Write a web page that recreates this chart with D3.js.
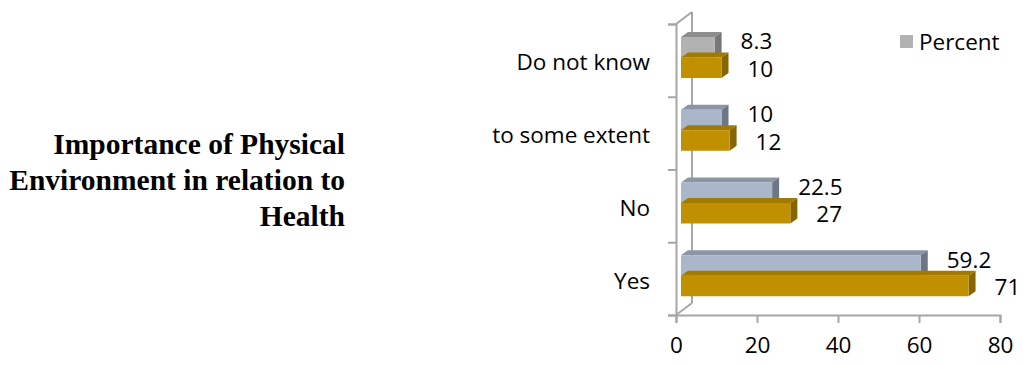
<!DOCTYPE html>
<html>
<head>
<meta charset="utf-8">
<script src="https://cdn.jsdelivr.net/npm/d3@7"></script>
<style>
  body { margin: 0; background: #fff; }
  svg { display: block; }
</style>
</head>
<body>
<div id="chart"></div>
<script>
// data
var categories = ["Yes", "No", "to some extent", "Do not know"];
var percent = [59.2, 22.5, 10, 8.3];
var frequency = [71, 27, 12, 10];
var xTicks = [0, 20, 40, 60, 80];
var titleLines = ["Importance of Physical", "Environment in relation to", "Health"];
var legendLabel = "Percent";

var width = 1023, height = 365;
var svg = d3.select("#chart").append("svg")
  .attr("width", width)
  .attr("height", height);

var font = "'Open Sans', sans-serif";
var fontSize = "22.5px";
var axisColor = "#a6a6a6";

// title on the left
svg.append("g").selectAll("text")
  .data(titleLines)
  .enter().append("text")
  .attr("x", 345)
  .attr("y", function (d, i) { return 154 + i * 36; })
  .attr("text-anchor", "end")
  .style("font-family", "'Liberation Serif', 'Times New Roman', serif")
  .style("font-weight", "bold")
  .style("font-size", "29.5px")
  .text(function (d) { return d; });

var x = d3.scaleLinear().domain([0, 80]).range([676, 1000]);
var y = d3.scaleBand().domain(categories).range([315, 24]);
var depth = { dx: 16, dy: -12 };
var barOff = { dx: 5, dy: -4 };
var barDepth = { dx: 7, dy: -5 };

// walls
var walls = svg.append("g")
  .attr("fill", "none")
  .attr("stroke", axisColor)
  .attr("stroke-width", 2);
walls.append("line")
  .attr("x1", x(0) + depth.dx).attr("y1", y.range()[1] + depth.dy)
  .attr("x2", x(0) + depth.dx).attr("y2", y.range()[0] + depth.dy);
walls.append("line")
  .attr("x1", x(0)).attr("y1", y.range()[1])
  .attr("x2", x(0) + depth.dx).attr("y2", y.range()[1] + depth.dy);
walls.append("line")
  .attr("x1", x(0)).attr("y1", y.range()[0])
  .attr("x2", x(0) + depth.dx).attr("y2", y.range()[0] + depth.dy);

// front axes
var yAxis = svg.append("g")
  .attr("transform", "translate(" + x(0) + ",0)")
  .call(d3.axisLeft(d3.scaleLinear().domain([0, 4]).range([315, 24]))
    .ticks(4).tickSize(8).tickFormat(""));
var xAxis = svg.append("g")
  .attr("transform", "translate(0," + y.range()[0] + ")")
  .call(d3.axisBottom(x).tickValues(xTicks).tickSize(8).tickPadding(14));
[yAxis, xAxis].forEach(function (a) {
  a.select(".domain").attr("stroke", axisColor).attr("stroke-width", 2);
  a.selectAll(".tick line").attr("stroke", axisColor).attr("stroke-width", 2);
});
xAxis.selectAll(".tick text")
  .style("font-family", font)
  .style("font-size", fontSize)
  .attr("fill", "#000");

// category labels
svg.append("g").selectAll("text")
  .data(categories)
  .enter().append("text")
  .attr("x", 650)
  .attr("y", function (d) { return y(d) + y.bandwidth() / 2 + 10; })
  .attr("text-anchor", "end")
  .style("font-family", font)
  .style("font-size", fontSize)
  .text(function (d) { return d; });

// 3d bars
var inner = d3.scaleBand().domain(["percent", "frequency"]).range([17, 58]);
var series = [
  { key: "percent", values: percent },
  { key: "frequency", values: frequency }
];
function colorsFor(key, cat) {
  if (key === "frequency") return { front: "#c09000", top: "#a37a00", side: "#876500" };
  if (cat === "Do not know") return { front: "#b2b2b2", top: "#8e8e8e", side: "#777777" };
  return { front: "#aab6ca", top: "#8b95a4", side: "#6d7684" };
}

var bars = [];
series.forEach(function (s) {
  s.values.forEach(function (v, i) {
    bars.push({ key: s.key, cat: categories[i], value: v });
  });
});

var g = svg.append("g").selectAll(".bar")
  .data(bars)
  .enter().append("g")
  .attr("class", "bar");

function geom(d) {
  var x0 = x(0) + barOff.dx, x1 = x(d.value) + barOff.dx;
  var y0 = y(d.cat) + inner(d.key) + barOff.dy, y1 = y0 + inner.bandwidth();
  return { x0: x0, x1: x1, y0: y0, y1: y1 };
}

g.append("path")
  .attr("d", function (d) {
    var b = geom(d);
    return "M" + b.x0 + "," + b.y0 + "L" + (b.x0 + barDepth.dx) + "," + (b.y0 + barDepth.dy) +
      "L" + (b.x1 + barDepth.dx) + "," + (b.y0 + barDepth.dy) + "L" + b.x1 + "," + b.y0 + "Z";
  })
  .attr("fill", function (d) { return colorsFor(d.key, d.cat).top; });
g.append("path")
  .attr("d", function (d) {
    var b = geom(d);
    return "M" + b.x1 + "," + b.y0 + "L" + (b.x1 + barDepth.dx) + "," + (b.y0 + barDepth.dy) +
      "L" + (b.x1 + barDepth.dx) + "," + (b.y1 + barDepth.dy) + "L" + b.x1 + "," + b.y1 + "Z";
  })
  .attr("fill", function (d) { return colorsFor(d.key, d.cat).side; });
g.append("rect")
  .attr("x", function (d) { return geom(d).x0; })
  .attr("y", function (d) { return geom(d).y0; })
  .attr("width", function (d) { var b = geom(d); return b.x1 - b.x0; })
  .attr("height", inner.bandwidth())
  .attr("fill", function (d) { return colorsFor(d.key, d.cat).front; });

// value labels
g.append("text")
  .attr("x", function (d) { return geom(d).x1 + barDepth.dx + 19; })
  .attr("y", function (d) {
    var b = geom(d);
    return (b.y0 + b.y1) / 2 + (d.key === "percent" ? 2 : 9);
  })
  .style("font-family", font)
  .style("font-size", fontSize)
  .text(function (d) { return d.value; });

// legend
var legend = svg.append("g").attr("transform", "translate(900,35)");
legend.append("rect")
  .attr("width", 13).attr("height", 13)
  .attr("fill", "#b2b2b2");
legend.append("text")
  .attr("x", 19).attr("y", 15)
  .style("font-family", font)
  .style("font-size", fontSize)
  .text(legendLabel);
</script>
</body>
</html>
